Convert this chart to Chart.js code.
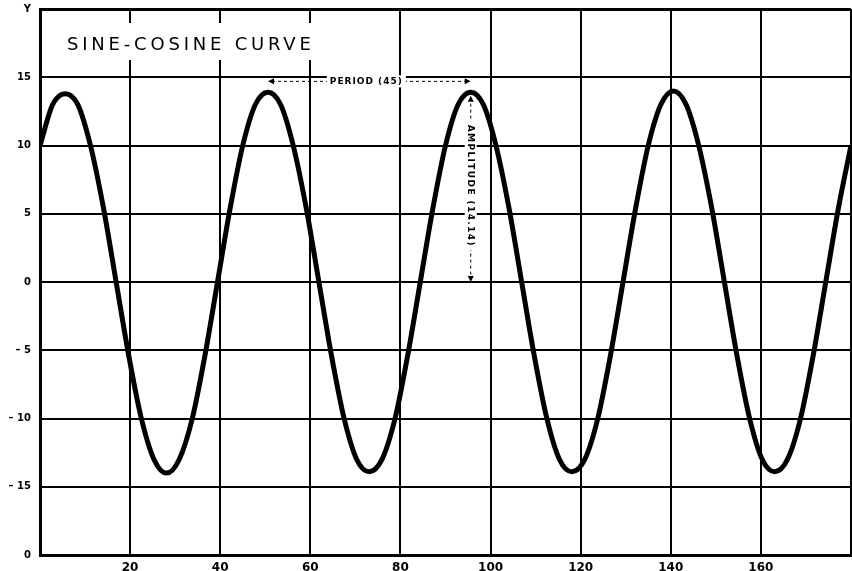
<!DOCTYPE html>
<html lang="en">
<head>
    <meta charset="UTF-8">
    <title>Sine-Cosine Curve</title>
    <script src="https://cdn.jsdelivr.net/npm/chart.js"></script>
    <style>
        html, body { margin: 0; padding: 0; background: #fff; }
        #wrap { width: 852px; height: 571px; }
    </style>
</head>
<body>
    <div id="wrap"><canvas id="sineChart"></canvas></div>

    <script>
        // values
        const xValues = [
            0, 2.8, 5.6, 8.4, 11.2, 14.1, 16.9, 19.7, 22.5, 25.3, 28.1, 30.9, 33.8, 36.6, 39.4, 42.2,
            45, 47.8, 50.6, 53.4, 56.2, 59.1, 61.9, 64.7, 67.5, 70.3, 73.1, 75.9, 78.8, 81.6, 84.4, 87.2,
            90, 92.8, 95.6, 98.4, 101.2, 104.1, 106.9, 109.7, 112.5, 115.3, 118.1, 120.9, 123.8, 126.6, 129.4, 132.2,
            135, 137.8, 140.6, 143.4, 146.2, 149.1, 151.9, 154.7, 157.5, 160.3, 163.1, 165.9, 168.8, 171.6, 174.4, 177.2,
            180
        ];
        const yValues = [
            10, 13, 13.8, 13, 10, 5.4, 0, -5.4, -10, -13, -14, -13, -10, -5.4, 0, 5.4,
            10, 13, 13.9, 13, 10, 5.4, 0, -5.4, -10, -13, -13.9, -13, -10, -5.4, 0, 5.4,
            10, 13, 13.9, 13, 10, 5.4, 0, -5.4, -10, -13, -13.9, -13, -10, -5.4, 0, 5.4,
            10, 13, 14, 13, 10, 5.4, 0, -5.4, -10, -13, -13.9, -13, -10, -5.4, 0, 5.4,
            10
        ];
        const xTicks = [20, 40, 60, 80, 100, 120, 140, 160];
        const yTickLabels = { 20: 'Y', 15: '15', 10: '10', 5: '5', 0: '0', '-5': '– 5', '-10': '– 10', '-15': '– 15', '-20': '0' };

        const titleText = 'SINE-COSINE CURVE';
        const periodText = 'PERIOD (45)';
        const amplitudeText = 'AMPLITUDE (14.14)';
        const periodFrom = 50.6, periodTo = 95.6, periodAt = 14.7;
        const amplitudeAt = 95.6, amplitudeTop = 13.8, amplitudeBottom = 0;

        const points = xValues.map((x, i) => ({ x: x, y: yValues[i] }));

        function arrowHead(ctx, x, y, dir) {
            // dir: 'left' | 'right' | 'up' | 'down'
            ctx.beginPath();
            if (dir === 'left') { ctx.moveTo(x, y); ctx.lineTo(x + 6, y - 3); ctx.lineTo(x + 6, y + 3); }
            if (dir === 'right') { ctx.moveTo(x, y); ctx.lineTo(x - 6, y - 3); ctx.lineTo(x - 6, y + 3); }
            if (dir === 'up') { ctx.moveTo(x, y); ctx.lineTo(x - 3, y + 6); ctx.lineTo(x + 3, y + 6); }
            if (dir === 'down') { ctx.moveTo(x, y); ctx.lineTo(x - 3, y - 6); ctx.lineTo(x + 3, y - 6); }
            ctx.closePath();
            ctx.fill();
        }

        const notes = {
            id: 'notes',
            afterDraw(chart) {
                const ctx = chart.ctx;
                const xs = chart.scales.x, ys = chart.scales.y;
                ctx.save();
                ctx.fillStyle = '#000';
                ctx.strokeStyle = '#000';

                // title in a white box inside the plot
                ctx.font = '18px "DejaVu Sans"';
                ctx.letterSpacing = '3.8px';
                ctx.textBaseline = 'middle';
                ctx.textAlign = 'left';
                const tw = ctx.measureText(titleText).width;
                ctx.fillStyle = '#fff';
                ctx.fillRect(58, 23, tw + 14, 37);
                ctx.fillStyle = '#000';
                ctx.fillText(titleText, 67, 45);

                // period
                const px1 = xs.getPixelForValue(periodFrom), px2 = xs.getPixelForValue(periodTo);
                const py = ys.getPixelForValue(periodAt);
                ctx.lineWidth = 1;
                ctx.setLineDash([3, 3]);
                ctx.beginPath();
                ctx.moveTo(px1 + 4, py); ctx.lineTo(px2 - 4, py);
                ctx.stroke();
                ctx.setLineDash([]);
                arrowHead(ctx, px1, py, 'left');
                arrowHead(ctx, px2, py, 'right');
                ctx.font = 'bold 9px "DejaVu Sans"';
                ctx.letterSpacing = '1px';
                ctx.textAlign = 'center';
                const pw = ctx.measureText(periodText).width;
                const pcx = (px1 + px2) / 2 - 3;
                ctx.fillStyle = '#fff';
                ctx.fillRect(pcx - pw / 2 - 3, py - 6, pw + 6, 12);
                ctx.fillStyle = '#000';
                ctx.fillText(periodText, pcx, py);

                // amplitude
                const ax = xs.getPixelForValue(amplitudeAt);
                const ay1 = ys.getPixelForValue(amplitudeTop), ay2 = ys.getPixelForValue(amplitudeBottom);
                ctx.setLineDash([3, 3]);
                ctx.beginPath();
                ctx.moveTo(ax, ay1 + 4); ctx.lineTo(ax, ay2 - 4);
                ctx.stroke();
                ctx.setLineDash([]);
                arrowHead(ctx, ax, ay1 + 2, 'up');
                arrowHead(ctx, ax, ay2, 'down');
                ctx.letterSpacing = '1.4px';
                const aw = ctx.measureText(amplitudeText).width;
                const acy = (ay1 + ay2) / 2 - 2;
                ctx.translate(ax, acy);
                ctx.rotate(Math.PI / 2);
                ctx.fillStyle = '#fff';
                ctx.fillRect(-aw / 2 - 3, -6, aw + 6, 12);
                ctx.fillStyle = '#000';
                ctx.fillText(amplitudeText, 0, 0);
                ctx.restore();
            }
        };

        const ctx = document.getElementById('sineChart').getContext('2d');
        const chart = new Chart(ctx, {
            type: 'line',
            data: {
                datasets: [{
                    data: points,
                    borderColor: '#000',
                    borderWidth: 5,
                    pointRadius: 0,
                    cubicInterpolationMode: 'monotone',
                    fill: false
                }]
            },
            options: {
                responsive: true,
                maintainAspectRatio: false,
                animation: false,
                layout: { padding: { top: 9, right: 1, left: 0, bottom: 0 } },
                plugins: {
                    legend: { display: false },
                    tooltip: { enabled: false }
                },
                scales: {
                    x: {
                        type: 'linear',
                        min: 0,
                        max: 180,
                        afterBuildTicks: (scale) => {
                            scale.ticks = [0].concat(xTicks, [180]).map(v => ({ value: v }));
                        },
                        afterFit: (scale) => {
                            scale.height = 16;
                            scale.paddingLeft = 0;
                            scale.paddingRight = 0;
                        },
                        grid: {
                            color: '#000',
                            lineWidth: (c) => (c.tick && c.tick.value === 180 ? 3 : 2),
                            drawTicks: false
                        },
                        border: { color: '#000', width: 3 },
                        ticks: {
                            autoSkip: false,
                            maxRotation: 0,
                            padding: 6,
                            color: '#000',
                            font: { family: 'DejaVu Sans', size: 12, weight: 'bold' },
                            callback: (v) => (xTicks.includes(v) ? String(v) : '')
                        }
                    },
                    y: {
                        min: -20,
                        max: 20,
                        afterFit: (scale) => {
                            scale.width = 40;
                            scale.paddingTop = 0;
                            scale.paddingBottom = 0;
                        },
                        grid: {
                            color: '#000',
                            lineWidth: (c) => (c.tick && c.tick.value === 20 ? 3 : 2),
                            drawTicks: false
                        },
                        border: { color: '#000', width: 3 },
                        ticks: {
                            stepSize: 5,
                            padding: 9,
                            color: '#000',
                            font: { family: 'DejaVu Sans', size: 10, weight: 'bold' },
                            callback: (v) => yTickLabels[v]
                        }
                    }
                }
            },
            plugins: [notes]
        });
    </script>
</body>
</html>
